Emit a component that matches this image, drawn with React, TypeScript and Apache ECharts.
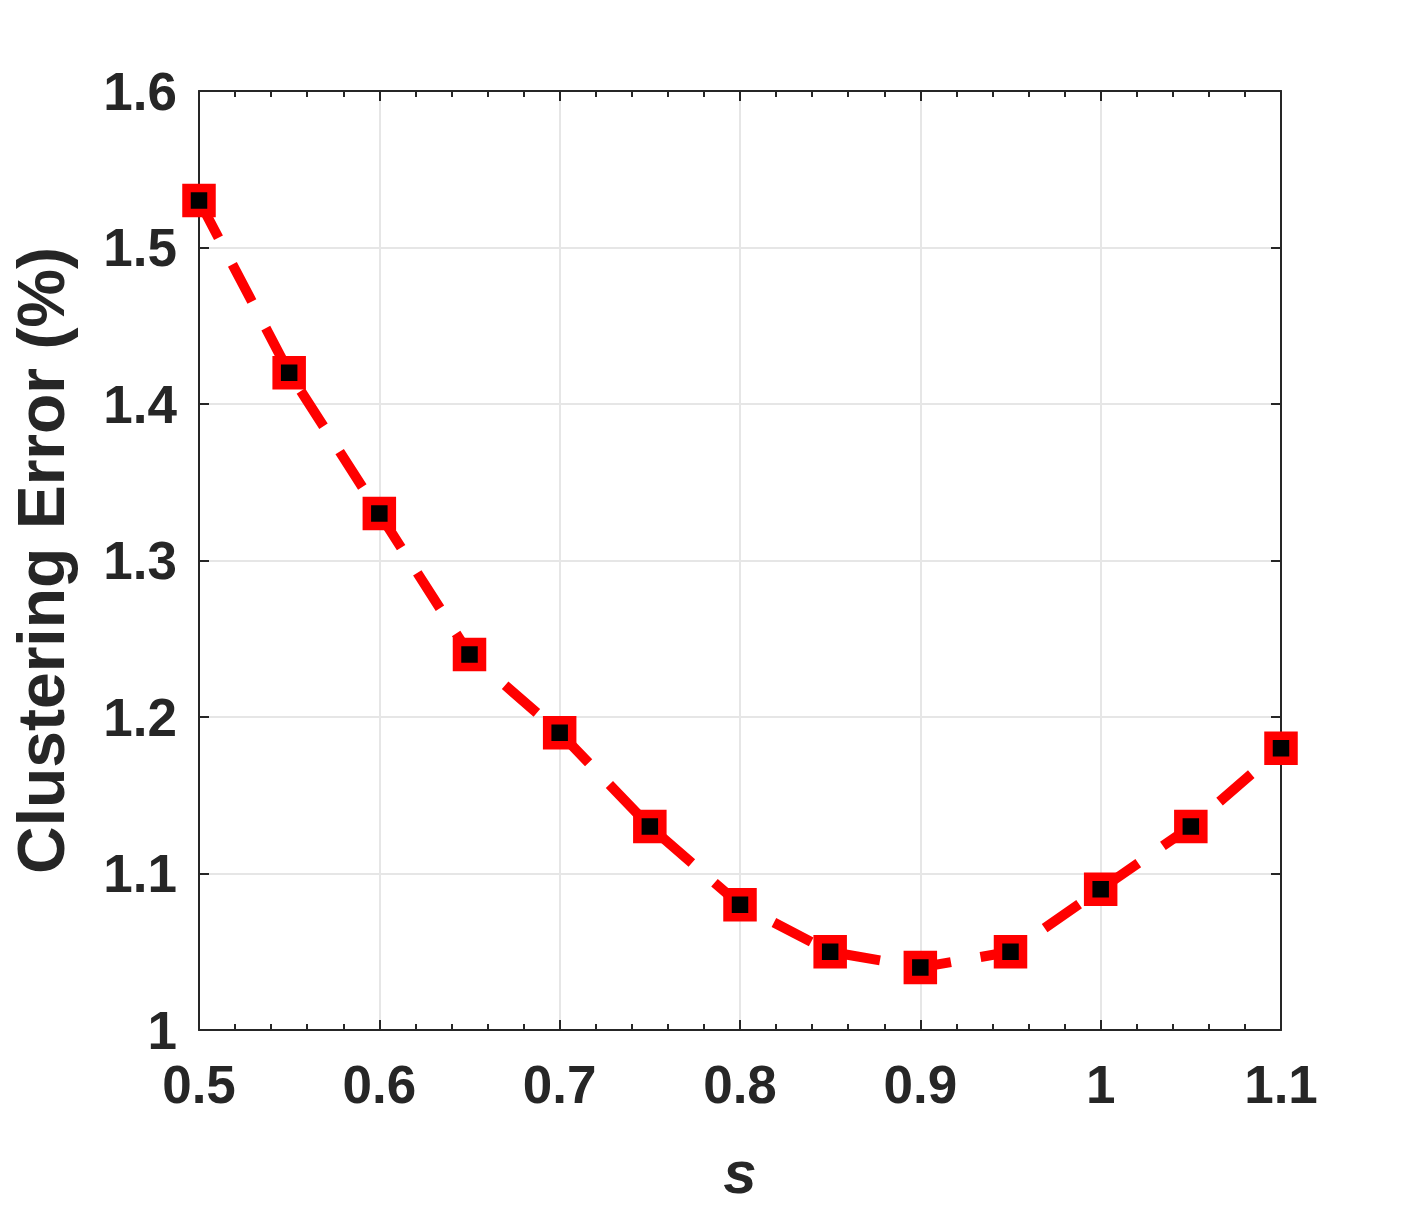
import React, { useEffect, useRef } from "react";
import * as echarts from "echarts";

const sValues = [0.5, 0.55, 0.6, 0.65, 0.7, 0.75, 0.8, 0.85, 0.9, 0.95, 1.0, 1.05, 1.1];
const errorValues = [1.53, 1.42, 1.33, 1.24, 1.19, 1.13, 1.08, 1.05, 1.04, 1.05, 1.09, 1.13, 1.18];
const xTickLabels = ["0.5", "0.6", "0.7", "0.8", "0.9", "1", "1.1"];
const yTickLabels = ["1", "1.1", "1.2", "1.3", "1.4", "1.5", "1.6"];

const FONT = "'Liberation Sans', Arial, sans-serif";
const AXIS_COLOR = "#262626";

export default function App() {
  const ref = useRef<HTMLDivElement>(null);
  useEffect(() => {
    if (!ref.current) return;
    const chart = echarts.init(ref.current, null, { renderer: "svg" });
    const fmtX = (v: number) => {
      const idx = Math.round((v - 0.5) / 0.1);
      return xTickLabels[idx] ?? "";
    };
    const fmtY = (v: number) => {
      const idx = Math.round((v - 1) / 0.1);
      return yTickLabels[idx] ?? "";
    };
    const baseX = {
      type: "value" as const,
      min: 0.5,
      max: 1.1,
      interval: 0.1,
      axisLine: { show: true, onZero: false, lineStyle: { color: AXIS_COLOR, width: 2 } },
      axisTick: { show: true, inside: true, length: 10, lineStyle: { color: AXIS_COLOR, width: 2 } },
      minorTick: { show: true, splitNumber: 5, length: 6, lineStyle: { color: AXIS_COLOR, width: 2 } },
    };
    const baseY = {
      type: "value" as const,
      min: 1,
      max: 1.6,
      interval: 0.1,
      axisLine: { show: true, onZero: false, lineStyle: { color: AXIS_COLOR, width: 2 } },
      axisTick: { show: true, inside: true, length: 10, lineStyle: { color: AXIS_COLOR, width: 2 } },
    };
    chart.setOption({
      animation: false,
      backgroundColor: "#ffffff",
      grid: { left: 197, top: 91, right: 135, bottom: 186, containLabel: false },
      xAxis: [
        {
          ...baseX,
          position: "bottom",
          name: "s",
          nameLocation: "middle",
          nameGap: 112,
          nameTextStyle: { fontFamily: FONT, fontWeight: "bold", fontStyle: "italic", fontSize: 60, color: AXIS_COLOR },
          axisLabel: { show: true, formatter: fmtX, margin: 28, fontFamily: FONT, fontWeight: "bold", fontSize: 53, color: AXIS_COLOR },
          splitLine: { show: true, lineStyle: { color: "#e6e6e6", width: 2 } },
        },
        {
          ...baseX,
          position: "top",
          axisLabel: { show: false },
          splitLine: { show: false },
        },
      ],
      yAxis: [
        {
          ...baseY,
          position: "left",
          name: "Clustering Error (%)",
          nameLocation: "middle",
          nameGap: 125,
          nameTextStyle: { fontFamily: FONT, fontWeight: "bold", fontSize: 66, color: AXIS_COLOR },
          axisLabel: { show: true, formatter: fmtY, margin: 22, fontFamily: FONT, fontWeight: "bold", fontSize: 53, color: AXIS_COLOR },
          splitLine: { show: true, lineStyle: { color: "#e6e6e6", width: 2 } },
        },
        {
          ...baseY,
          position: "right",
          axisLabel: { show: false },
          splitLine: { show: false },
        },
      ],
      series: [
        {
          type: "line",
          data: sValues.map((s, i) => [s, errorValues[i]]),
          lineStyle: { color: "#ff0000", width: 10, type: [42, 30] },
          symbol: "rect",
          symbolSize: 25,
          itemStyle: { color: "#000000", borderColor: "#ff0000", borderWidth: 8.5 },
          z: 5,
        },
      ],
    });
    return () => chart.dispose();
  }, []);
  return (
    <div
      ref={ref}
      style={{ position: "fixed", left: 0, top: 0, width: 1416, height: 1216, background: "#fff" }}
    />
  );
}
